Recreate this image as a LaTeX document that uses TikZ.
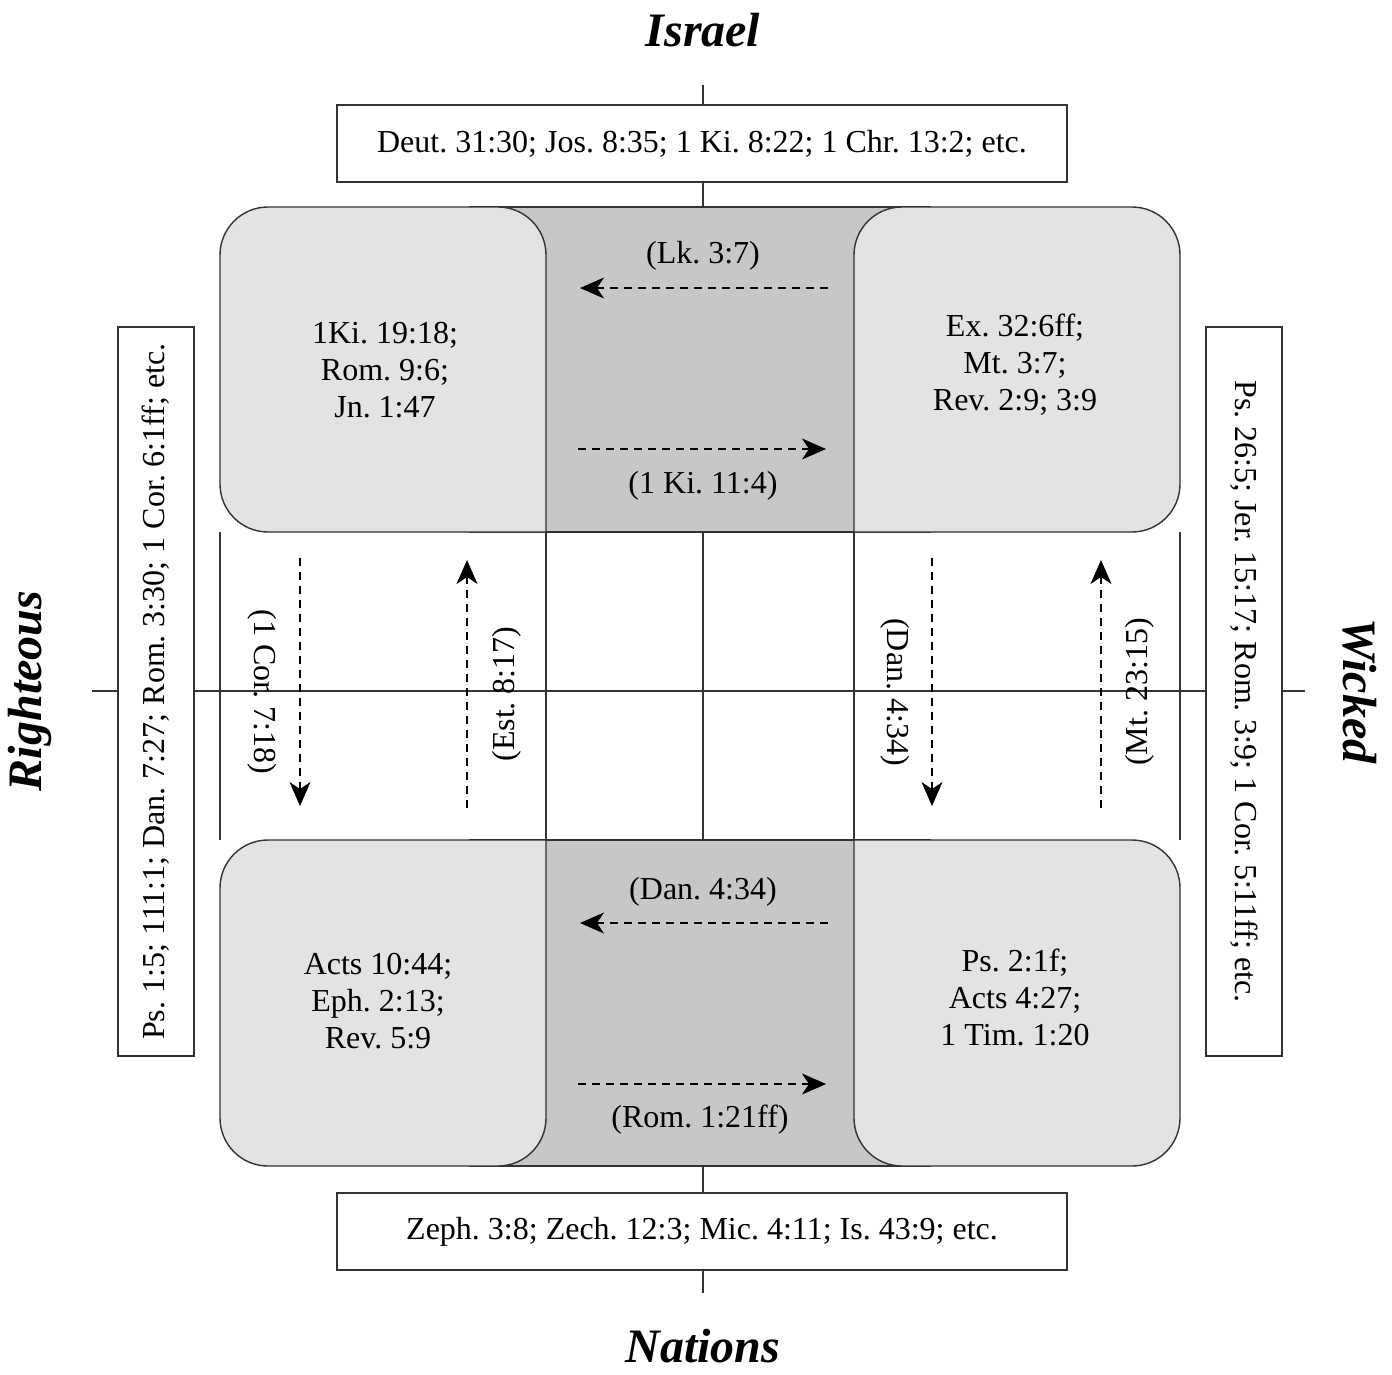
\documentclass[tikz,border=0pt]{standalone}
\usepackage{fontspec}
\setmainfont{Liberation Serif}
\usetikzlibrary{arrows.meta}
\definecolor{lightcell}{gray}{0.89}
\definecolor{darkcell}{gray}{0.78}
\definecolor{rule}{gray}{0.2}
\tikzset{
  reftext/.style={font=\fontsize{32}{37}\selectfont, align=center, inner sep=0pt, text=black},
  refbox/.style={draw=rule, line width=1.4pt, fill=white, font=\fontsize{32}{37}\selectfont, inner sep=0pt},
  axistitle/.style={font=\fontsize{48}{52}\selectfont\bfseries\itshape, inner sep=0pt},
  cellshape/.style={draw=rule, line width=1.4pt, fill=lightcell},
  bandshape/.style={draw=rule, line width=1.4pt, fill=darkcell},
  gridline/.style={draw=rule, line width=1.4pt},
  flow/.style={line width=1.8pt, dash pattern=on 8pt off 6pt, -{Stealth[length=24pt,width=21pt,inset=7pt]}}
}
\begin{document}
\frenchspacing
\begin{tikzpicture}[x=1pt,y=-1pt]
\useasboundingbox (0,0) rectangle (1392,1374);
% dark bands
\path[bandshape] (470,207) rectangle (930,532);
\path[bandshape] (470,840) rectangle (930,1166);
% light cells
\path[cellshape] (546,532) -- (268,532) arc[start angle=270,end angle=180,radius=48pt] -- (220,255) arc[start angle=180,end angle=90,radius=48pt] -- (498,207) arc[start angle=90,end angle=0,radius=48pt] -- cycle;
\path[cellshape] (854,532) -- (1132,532) arc[start angle=270,end angle=360,radius=48pt] -- (1180,255) arc[start angle=0,end angle=90,radius=48pt] -- (902,207) arc[start angle=90,end angle=180,radius=48pt] -- cycle;
\path[cellshape] (546,840) -- (268,840) arc[start angle=90,end angle=180,radius=48pt] -- (220,1118) arc[start angle=180,end angle=270,radius=48pt] -- (498,1166) arc[start angle=270,end angle=360,radius=48pt] -- cycle;
\path[cellshape] (854,840) -- (1132,840) arc[start angle=90,end angle=0,radius=48pt] -- (1180,1118) arc[start angle=0,end angle=-90,radius=48pt] -- (902,1166) arc[start angle=270,end angle=180,radius=48pt] -- cycle;
% grid lines in middle band
\draw[gridline] (220,532) -- (220,840);
\draw[gridline] (1180,532) -- (1180,840);
\draw[gridline] (546,532) -- (546,840);
\draw[gridline] (854,532) -- (854,840);
% axes
\draw[gridline] (92,691) -- (1305,691);
\draw[gridline] (703,85) -- (703,207);
\draw[gridline] (703,532) -- (703,840);
\draw[gridline] (703,1166) -- (703,1293);
% reference boxes
\node[refbox, minimum width=730pt, minimum height=77pt] (topbox) at (702,143.5) {Deut. 31:30; Jos. 8:35; 1 Ki. 8:22; 1 Chr. 13:2; etc.};
\node[refbox, minimum width=730pt, minimum height=77pt] (botbox) at (702,1231.5) {Zeph. 3:8; Zech. 12:3; Mic. 4:11; Is. 43:9; etc.};
\node[refbox, rotate=90, minimum width=729pt, minimum height=76pt] (leftbox) at (156,691.5) {Ps. 1:5; 111:1; Dan. 7:27; Rom. 3:30; 1 Cor. 6:1ff; etc.};
\node[refbox, rotate=-90, minimum width=729pt, minimum height=76pt] (rightbox) at (1244,691.5) {Ps. 26:5; Jer. 15:17; Rom. 3:9; 1 Cor. 5:11ff; etc.};
% titles
\node[axistitle] (israel) at (703,30) {Israel};
\node[axistitle] (nations) at (703,1346) {Nations};
\node[axistitle, rotate=90] (righteous) at (30,691) {Righteous};
\node[axistitle, rotate=-90] (wicked) at (1360,691) {Wicked};
% cell texts
\node[reftext] (tl) at (385,370) {1Ki. 19:18;\\Rom. 9:6;\\Jn. 1:47};
\node[reftext] (tr) at (1015,365) {Ex. 32:6ff;\\Mt. 3:7;\\Rev. 2:9; 3:9};
\node[reftext] (bl) at (378,1001) {Acts 10:44;\\Eph. 2:13;\\Rev. 5:9};
\node[reftext] (br) at (1015,997) {Ps. 2:1f;\\Acts 4:27;\\1 Tim. 1:20};
% horizontal flows
\coordinate (h1s) at (828,288); \coordinate (h1e) at (580,288);
\coordinate (h2s) at (578,449); \coordinate (h2e) at (826,449);
\coordinate (h3s) at (828,923); \coordinate (h3e) at (580,923);
\coordinate (h4s) at (578,1084); \coordinate (h4e) at (826,1084);
\draw[flow] (h1s) -- (h1e);
\draw[flow] (h2s) -- (h2e);
\draw[flow] (h3s) -- (h3e);
\draw[flow] (h4s) -- (h4e);
\node[reftext] (lk) at (703,256) {(Lk. 3:7)};
\node[reftext] (ki) at (703,486) {(1 Ki. 11:4)};
\node[reftext] (dan1) at (703,892) {(Dan. 4:34)};
\node[reftext] (rom) at (700,1120) {(Rom. 1:21ff)};
% vertical flows
\coordinate (v1s) at (300,558); \coordinate (v1e) at (300,806);
\coordinate (v2s) at (467,808); \coordinate (v2e) at (467,560);
\coordinate (v3s) at (932,558); \coordinate (v3e) at (932,806);
\coordinate (v4s) at (1101,808); \coordinate (v4e) at (1101,560);
\draw[flow] (v1s) -- (v1e);
\draw[flow] (v2s) -- (v2e);
\draw[flow] (v3s) -- (v3e);
\draw[flow] (v4s) -- (v4e);
\node[reftext, rotate=-90] (cor) at (262,692) {(1 Cor. 7:18)};
\node[reftext, rotate=90] (est) at (507,694) {(Est. 8:17)};
\node[reftext, rotate=-90] (dan2) at (895,692) {(Dan. 4:34)};
\node[reftext, rotate=90] (mt) at (1140,692) {(Mt. 23:15)};
\end{tikzpicture}
\end{document}
